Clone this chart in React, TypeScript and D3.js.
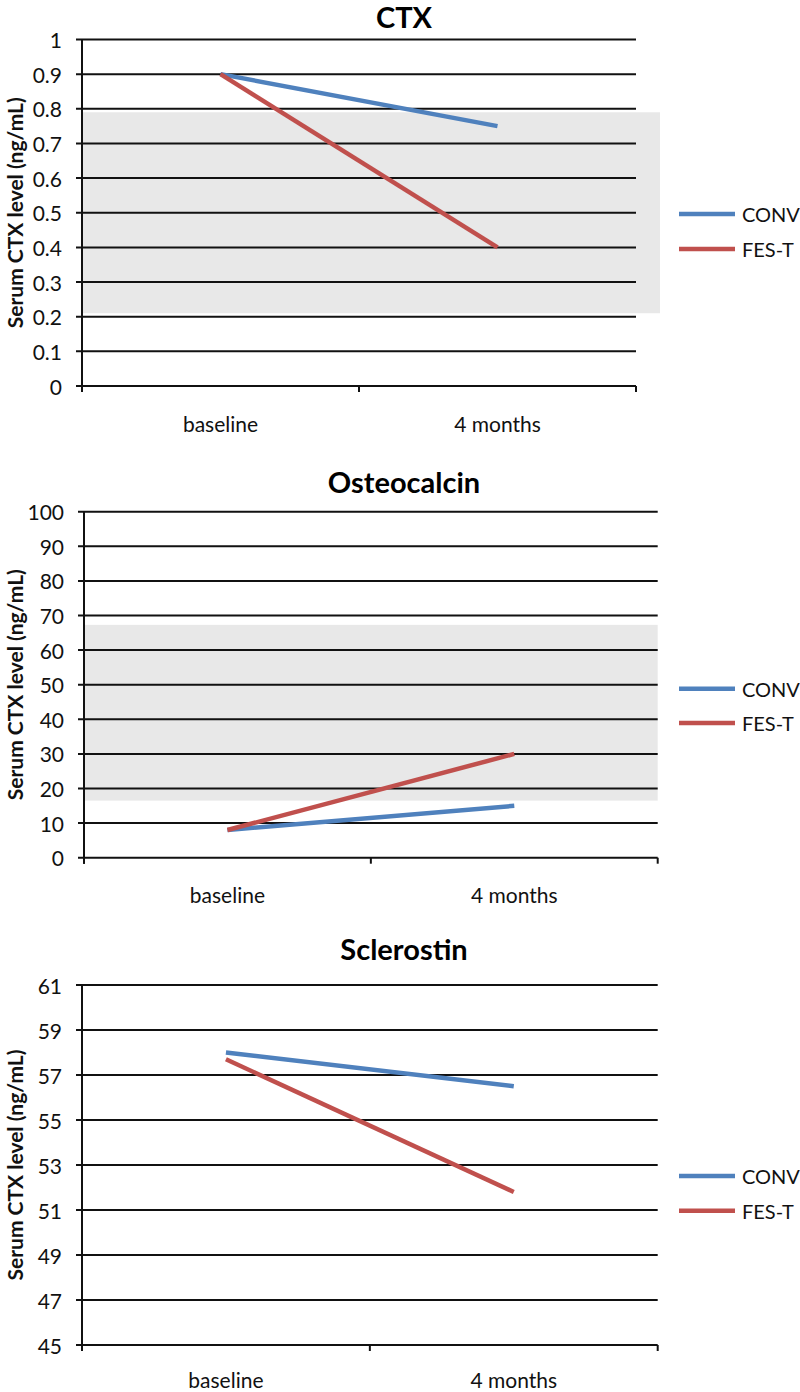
import React from "react";
import * as d3 from "d3";

const categories = ["baseline", "4 months"];
const seriesNames = ["CONV", "FES-T"];
const seriesColors = ["#4f81bd", "#c0504d"];

const ctxConv = [0.9, 0.75];
const ctxFes = [0.9, 0.4];
const ctxBand = [0.21, 0.79];
const ctxTicks = [0, 0.1, 0.2, 0.3, 0.4, 0.5, 0.6, 0.7, 0.8, 0.9, 1];

const ostConv = [8, 15];
const ostFes = [8, 30];
const ostBand = [16.5, 67.3];
const ostTicks = [0, 10, 20, 30, 40, 50, 60, 70, 80, 90, 100];

const sclConv = [58.0, 56.5];
const sclFes = [57.7, 51.8];
const sclTicks = [45, 47, 49, 51, 53, 55, 57, 59, 61];

const FONT = "Lato, 'Open Sans', sans-serif";

type PanelProps = {
  title: string;
  series: number[][];
  ticks: number[];
  band?: number[];
  bandExtra: number;
  left: number;
  right: number;
  top: number;
  bottom: number;
  titleY: number;
  legendY: number[];
  labelDy: number;
  fmt: (v: number) => string;
};

function Panel(p: PanelProps) {
  const x = d3.scaleBand<string>().domain(categories).range([p.left, p.right]);
  const y = d3
    .scaleLinear()
    .domain([p.ticks[0], p.ticks[p.ticks.length - 1]])
    .range([p.bottom, p.top]);
  const line = d3
    .line<number>()
    .x((_, i) => (x(categories[i]) as number) + x.bandwidth() / 2)
    .y((d) => y(d));
  const xTicks = [p.left, ...categories.map((c) => (x(c) as number) + x.bandwidth())];
  const midY = (p.top + p.bottom) / 2;
  return (
    <g>
      <text
        x={404}
        y={p.titleY}
        textAnchor="middle"
        dominantBaseline="central"
        fontFamily={FONT}
        fontWeight="bold"
        fontSize={29}
        fill="#000"
      >
        {p.title}
      </text>
      {p.band && (
        <rect
          x={p.left}
          y={y(p.band[1])}
          width={p.right - p.left + p.bandExtra}
          height={y(p.band[0]) - y(p.band[1])}
          fill="#e8e8e8"
        />
      )}
      {p.ticks.map((t) => (
        <g key={t}>
          <line x1={p.left - 6} x2={p.right} y1={y(t)} y2={y(t)} stroke="#111" strokeWidth={2} />
          <text
            x={p.left - 20}
            y={y(t)}
            textAnchor="end"
            dominantBaseline="central"
            fontFamily={FONT}
            fontSize={21}
            fill="#111"
          >
            {p.fmt(t)}
          </text>
        </g>
      ))}
      <line x1={p.left} x2={p.left} y1={p.top} y2={p.bottom + 6} stroke="#111" strokeWidth={2} />
      {xTicks.map((tx, i) => (
        <line key={i} x1={tx} x2={tx} y1={p.bottom} y2={p.bottom + 6} stroke="#111" strokeWidth={2} />
      ))}
      {categories.map((c) => (
        <text
          key={c}
          x={(x(c) as number) + x.bandwidth() / 2}
          y={p.bottom + p.labelDy}
          textAnchor="middle"
          dominantBaseline="central"
          fontFamily={FONT}
          fontSize={21}
          fill="#111"
        >
          {c}
        </text>
      ))}
      <text
        transform={`translate(14,${midY}) rotate(-90)`}
        textAnchor="middle"
        dominantBaseline="central"
        fontFamily={FONT}
        fontWeight="bold"
        fontSize={21}
        fill="#111"
      >
        Serum CTX level (ng/mL)
      </text>
      {p.series.map((s, i) => (
        <path key={i} d={line(s) as string} fill="none" stroke={seriesColors[i]} strokeWidth={4.5} />
      ))}
      {seriesNames.map((n, i) => (
        <g key={n}>
          <line x1={679} x2={735} y1={p.legendY[i]} y2={p.legendY[i]} stroke={seriesColors[i]} strokeWidth={4.5} />
          <text
            x={742}
            y={p.legendY[i]}
            dominantBaseline="central"
            fontFamily={FONT}
            fontSize={20}
            fill="#111"
          >
            {n}
          </text>
        </g>
      ))}
    </g>
  );
}

export default function App() {
  return (
    <svg
      width={800}
      height={1392}
      style={{ position: "absolute", left: 0, top: 0, background: "#fff" }}
    >
      <rect width={800} height={1392} fill="#fff" />
      <Panel
        title="CTX"
        series={[ctxConv, ctxFes]}
        ticks={ctxTicks}
        band={ctxBand}
        bandExtra={24}
        left={82}
        right={636}
        top={39.5}
        bottom={386}
        titleY={16}
        legendY={[214, 249]}
        labelDy={37}
        fmt={(v) => (v === 0 || v === 1 ? String(v) : v.toFixed(1))}
      />
      <Panel
        title="Osteocalcin"
        series={[ostConv, ostFes]}
        ticks={ostTicks}
        band={ostBand}
        bandExtra={0}
        left={84}
        right={657.7}
        top={511.7}
        bottom={857.7}
        titleY={481}
        legendY={[688.7, 723]}
        labelDy={37}
        fmt={(v) => String(v)}
      />
      <Panel
        title="Sclerostin"
        series={[sclConv, sclFes]}
        ticks={sclTicks}
        bandExtra={0}
        left={82}
        right={657.7}
        top={985}
        bottom={1345}
        titleY={948}
        legendY={[1176, 1210.7]}
        labelDy={34}
        fmt={(v) => String(v)}
      />
    </svg>
  );
}
